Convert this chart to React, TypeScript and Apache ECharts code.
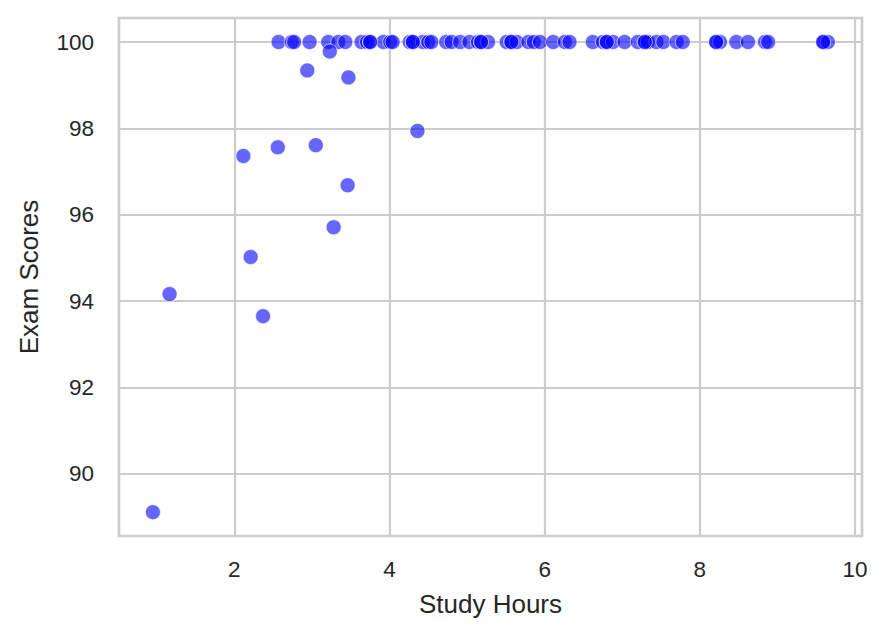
import React, { useEffect, useRef } from "react";
import * as echarts from "echarts";

// Study hours for students who scored 100
const perfectHours: number[] = [
  2.57, 2.74, 2.77, 2.97, 3.21, 3.34, 3.43, 3.64, 3.71, 3.75, 3.92, 4.01, 4.04,
  4.26, 4.3, 4.43, 4.5, 4.54, 4.73, 4.8, 4.91, 5.03, 5.14, 5.18, 5.27, 5.51,
  5.57, 5.64, 5.79, 5.86, 5.94, 6.11, 6.26, 6.32, 6.62, 6.75, 6.8, 6.88, 7.03,
  7.2, 7.29, 7.33, 7.44, 7.53, 7.7, 7.78, 8.21, 8.26, 8.47, 8.62, 8.84, 8.88,
  9.59, 9.65,
  // overlapping duplicates (darker spots)
  3.75, 4.3, 5.18, 5.57, 6.8, 7.29, 8.21, 9.59,
];
const perfectScores: number[] = perfectHours.map(() => 100);

// Remaining students
const otherHours: number[] = [0.95, 1.165, 2.116, 2.21, 2.37, 2.56, 2.94, 3.05, 3.23, 3.28, 3.47, 3.46, 4.36];
const otherScores: number[] = [89.11, 94.16, 97.36, 95.02, 93.65, 97.56, 99.34, 97.61, 99.78, 95.71, 99.18, 96.68, 97.94];

const xTickValues: number[] = [2, 4, 6, 8, 10];
const yTickValues: number[] = [90, 92, 94, 96, 98, 100];

const FONT = "Liberation Sans, Arial, sans-serif";
const TEXT = "#262626";
const GRID = "#cccccc";

export default function App() {
  const ref = useRef<HTMLDivElement>(null);
  useEffect(() => {
    if (!ref.current) return;
    const chart = echarts.init(ref.current, undefined, { renderer: "svg" });
    const points: number[][] = [];
    perfectHours.forEach((h, i) => points.push([h, perfectScores[i]]));
    otherHours.forEach((h, i) => points.push([h, otherScores[i]]));
    const isTick = (list: number[], v: number) => list.some((t) => Math.abs(t - v) < 1e-6);
    chart.setOption({
      animation: false,
      backgroundColor: "#ffffff",
      textStyle: { fontFamily: FONT },
      grid: {
        left: 119,
        right: 27,
        top: 18,
        bottom: 102,
        show: true,
        borderColor: GRID,
        borderWidth: 2.5,
        backgroundColor: "transparent",
      },
      xAxis: {
        type: "value",
        min: 0.513,
        max: 10.09,
        splitNumber: 5,
        name: "Study Hours",
        nameLocation: "middle",
        nameGap: 55,
        nameTextStyle: { fontSize: 26, color: TEXT, fontFamily: FONT },
        axisLine: { show: false },
        axisTick: { show: false },
        axisLabel: {
          fontSize: 22.5,
          color: TEXT,
          fontFamily: FONT,
          margin: 22,
          formatter: (v: number) => (isTick(xTickValues, v) ? String(Math.round(v)) : ""),
        },
        splitLine: { show: true, lineStyle: { color: GRID, width: 2.2 } },
      },
      yAxis: {
        type: "value",
        min: 88.557,
        max: 100.556,
        splitNumber: 6,
        name: "Exam Scores",
        nameLocation: "middle",
        nameGap: 77,
        nameTextStyle: { fontSize: 26, color: TEXT, fontFamily: FONT },
        axisLine: { show: false },
        axisTick: { show: false },
        axisLabel: {
          fontSize: 22.5,
          color: TEXT,
          fontFamily: FONT,
          margin: 25,
          formatter: (v: number) => (isTick(yTickValues, v) ? String(Math.round(v)) : ""),
        },
        splitLine: { show: true, lineStyle: { color: GRID, width: 2.2 } },
      },
      series: [
        {
          type: "scatter",
          data: points,
          symbolSize: 15,
          itemStyle: {
            color: "#0000ff",
            opacity: 0.6,
            borderColor: "#ffffff",
            borderWidth: 1,
          },
        },
      ],
    });
    return () => chart.dispose();
  }, []);
  return (
    <div
      ref={ref}
      style={{ position: "absolute", left: 0, top: 0, width: 889, height: 638 }}
    />
  );
}
